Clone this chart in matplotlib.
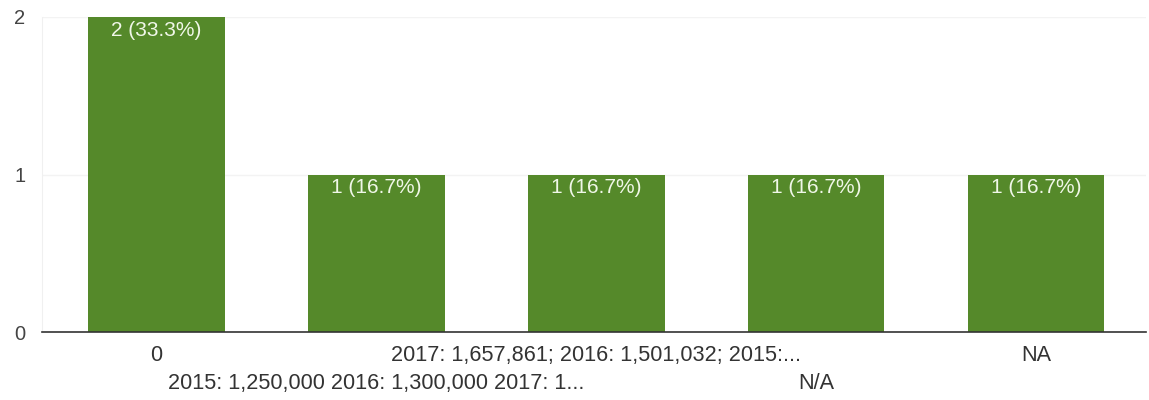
import numpy as np
import matplotlib.pyplot as plt

plt.rcParams['font.family'] = ['Liberation Sans', 'DejaVu Sans']

categories = ["0",
              "2015: 1,250,000 2016: 1,300,000 2017: 1...",
              "2017: 1,657,861; 2016: 1,501,032; 2015:...",
              "N/A",
              "NA"]
counts = [2, 1, 1, 1, 1]
total = sum(counts)

fig = plt.figure(figsize=(11.49, 4.0), dpi=100)
ax = fig.add_axes([0.0366, 0.17, 0.961, 0.7875])

x = np.arange(len(categories))
ax.bar(x, counts, width=0.62, color='#55892a', zorder=2)

# value labels inside the top of each bar
for xi, c in zip(x, counts):
    ax.annotate("{} ({:.1f}%)".format(c, 100 * c / total), (xi, c),
                xytext=(0, -9.5), textcoords='offset points',
                ha='center', va='center', color='#f0f7e8', fontsize=15, zorder=3)

ax.set_xlim(-0.52, 4.5)
ax.set_ylim(0, 2)
ax.set_yticks([0, 1, 2])
ax.set_yticklabels(["0", "1", "2"])
ax.yaxis.grid(True, color='#f3f3f3', lw=1, zorder=0)
ax.set_axisbelow(True)

# staggered category labels (two rows)
ax.set_xticks(x)
ax.set_xticklabels([])
for xi, lab in zip(x, categories):
    row = 0 if xi % 2 == 0 else 1
    ax.text(xi, -0.076 - row * 0.086, lab, ha='center', va='center',
            fontsize=15.6, color='#333333', transform=ax.get_xaxis_transform())

for s in ['top', 'right']:
    ax.spines[s].set_visible(False)
ax.spines['left'].set_color('#f0f0f0')
ax.spines['bottom'].set_color('#333333')
ax.spines['bottom'].set_linewidth(1.2)
ax.tick_params(axis='both', length=0)
ax.tick_params(axis='y', labelsize=14.5, labelcolor='#444444', pad=12)

fig.savefig("out.png", dpi=100)
